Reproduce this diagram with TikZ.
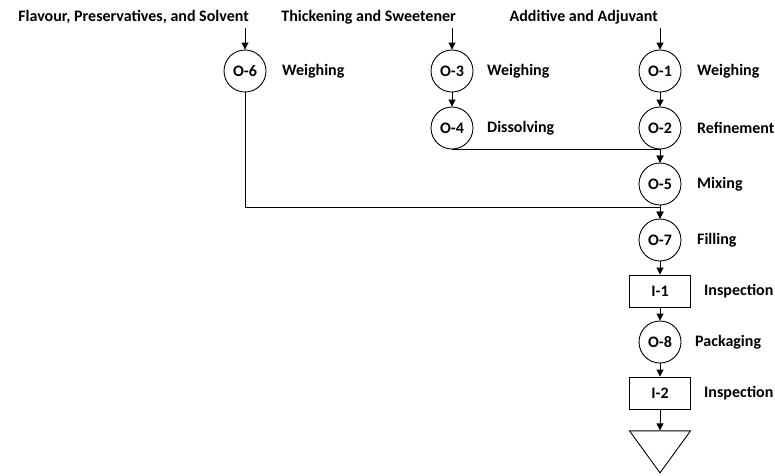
\documentclass[tikz,border=0pt]{standalone}
\usepackage{fontspec}
\setmainfont{Carlito}
\usetikzlibrary{arrows.meta,shapes.geometric}
\begin{document}
\begin{tikzpicture}[x=1pt,y=-1pt,
  font=\bfseries\fontsize{16}{18}\selectfont,
  op/.style={draw,circle,minimum size=42pt,inner sep=0pt,line width=0.9pt},
  insp/.style={draw,rectangle,minimum width=61pt,minimum height=32pt,inner sep=0pt,line width=0.9pt},
  lbl/.style={anchor=west,inner sep=0pt},
  inp/.style={anchor=east,inner sep=0pt},
  arr/.style={line width=0.9pt,-{Triangle[length=7pt,width=7pt]}}]
\useasboundingbox (0,0) rectangle (775,475);
% inputs
\node[inp] (t1) at (249,17) {Flavour, Preservatives, and Solvent};
\node[inp] (t2) at (456,17) {Thickening and Sweetener};
\node[inp] (t3) at (658,17) {Additive and Adjuvant};
\coordinate (a1) at (245,28);
\coordinate (a2) at (452,28);
\coordinate (a3) at (660,28);
% operations
\node[op] (o6) at (245,71) {O-6};
\node[op] (o3) at (452,71) {O-3};
\node[op] (o1) at (660,71) {O-1};
\node[op] (o4) at (452,128) {O-4};
\node[op] (o2) at (660,128) {O-2};
\node[op] (o5) at (660,184) {O-5};
\node[op] (o7) at (660,240) {O-7};
\node[insp] (i1) at (660,291) {I-1};
\node[op] (o8) at (660,342) {O-8};
\node[insp] (i2) at (660,393) {I-2};
\node[draw,isosceles triangle,shape border rotate=-90,isosceles triangle stretches,
  minimum width=61pt,minimum height=42pt,inner sep=0pt,line width=0.9pt,anchor=apex] (st) at (660,474) {};
% labels
\node[lbl] (l6) at (282,71) {Weighing};
\node[lbl] (l3) at (487,71) {Weighing};
\node[lbl] (l1) at (697,71) {Weighing};
\node[lbl] (l4) at (487,128) {Dissolving};
\node[lbl] (l2) at (697,128) {Refinement};
\node[lbl] (l5) at (697,184) {Mixing};
\node[lbl] (l7) at (697,240) {Filling};
\node[lbl] (li1) at (704,291) {Inspection};
\node[lbl] (l8) at (695,342) {Packaging};
\node[lbl] (li2) at (704,393) {Inspection};
% connectors
\draw[arr] (a1) -- (o6);
\draw[arr] (a2) -- (o3);
\draw[arr] (a3) -- (o1);
\draw[arr] (o3) -- (o4);
\draw[arr] (o1) -- (o2);
\draw[arr] (o2) -- (o5);
\draw[arr] (o4.south) -| (o5.north);
\coordinate (j) at (660,207);
\draw[arr] (o6.south) |- (j) -- (o7.north);
\draw[arr] (o5) -- (o7);
\draw[arr] (o7) -- (i1);
\draw[arr] (i1) -- (o8);
\draw[arr] (o8) -- (i2);
\draw[arr] (i2) -- (st.north);
\end{tikzpicture}
\end{document}
